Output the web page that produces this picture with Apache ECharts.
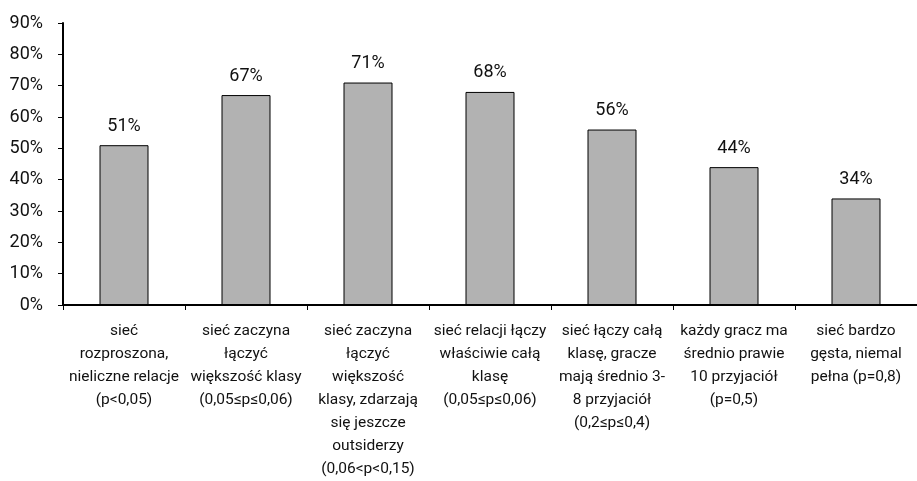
<!DOCTYPE html>
<html>
<head>
<meta charset="utf-8">
<title>sieć</title>
<script src="https://cdn.jsdelivr.net/npm/echarts@6/dist/echarts.min.js"></script>
<style>
html, body { margin: 0; padding: 0; background: #fff; }
#main { width: 917px; height: 481px; }
</style>
</head>
<body>
<div id="main"></div>
<script>
var categories = [
    'sieć\nrozproszona,\nnieliczne relacje\n(p<0,05)',
    'sieć zaczyna\nłączyć\nwiększość klasy\n(0,05≤p≤0,06)',
    'sieć zaczyna\nłączyć\nwiększość\nklasy, zdarzają\nsię jeszcze\noutsiderzy\n(0,06<p<0,15)',
    'sieć relacji łączy\nwłaściwie całą\nklasę\n(0,05≤p≤0,06)',
    'sieć łączy całą\nklasę, gracze\nmają średnio 3-\n8 przyjaciół\n(0,2≤p≤0,4)',
    'każdy gracz ma\nśrednio prawie\n10 przyjaciół\n(p=0,5)',
    'sieć bardzo\ngęsta, niemal\npełna (p=0,8)'
];
var values = [51, 67, 71, 68, 56, 44, 34];

var font = 'Roboto, "Liberation Sans", sans-serif';
var chart = echarts.init(document.getElementById('main'));
chart.setOption({
    animation: false,
    grid: { left: 63, right: -4, top: 23, bottom: 176 },
    xAxis: {
        type: 'category',
        data: categories,
        axisLine: { lineStyle: { color: '#000', width: 2 } },
        axisTick: { show: true, length: 5, lineStyle: { color: '#000', width: 1 } },
        axisLabel: {
            interval: 0,
            color: '#111',
            fontFamily: font,
            fontSize: 15.5,
            lineHeight: 23,
            margin: 15
        }
    },
    yAxis: {
        type: 'value',
        min: 0,
        max: 90,
        interval: 10,
        splitLine: { show: false },
        axisLine: { show: true, lineStyle: { color: '#000', width: 2 } },
        axisTick: { show: true, length: 5, lineStyle: { color: '#000', width: 1 } },
        axisLabel: {
            color: '#111',
            fontFamily: font,
            fontSize: 18,
            margin: 20,
            formatter: '{value}%'
        }
    },
    series: [{
        type: 'bar',
        data: values,
        barWidth: 49,
        itemStyle: { color: '#b2b2b2', borderColor: '#000', borderWidth: 1 },
        label: {
            show: true,
            position: 'top',
            distance: 10,
            color: '#111',
            fontFamily: font,
            fontSize: 18,
            formatter: '{c}%'
        }
    }]
});
</script>
</body>
</html>
